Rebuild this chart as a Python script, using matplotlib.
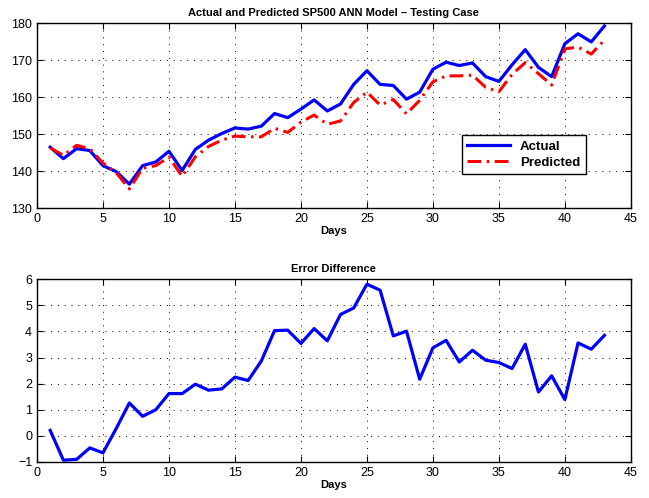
import matplotlib
matplotlib.use("Agg")
import matplotlib.pyplot as plt

plt.rcParams['font.family'] = ['Liberation Sans', 'DejaVu Sans']

days = list(range(1, 44))

actual = [146.5, 143.4, 146.1, 145.6, 141.5, 139.9, 136.5, 141.5, 142.5, 145.4,
          140.2, 145.9, 148.4, 150.2, 151.7, 151.4, 152.2, 155.6, 154.5, 156.8,
          159.3, 156.3, 158.2, 163.5, 167.2, 163.5, 163.2, 159.5, 161.4, 167.6,
          169.5, 168.6, 169.3, 165.6, 164.3, 168.8, 172.9, 168.1, 165.6, 174.5,
          177.2, 175.0, 179.3]

predicted = [146.3, 144.3, 147.0, 146.1, 142.2, 139.6, 135.2, 140.8, 141.5, 143.8,
             138.6, 143.9, 146.7, 148.4, 149.5, 149.3, 149.3, 151.6, 150.5, 153.3,
             155.2, 152.7, 153.6, 158.6, 161.4, 157.9, 159.4, 155.5, 159.2, 164.2,
             165.8, 165.8, 166.0, 162.7, 161.5, 166.2, 169.4, 166.4, 163.3, 173.1,
             173.6, 171.7, 175.5]

error = [0.21, -0.93, -0.90, -0.46, -0.65, 0.28, 1.26, 0.75, 1.00, 1.62,
         1.62, 1.98, 1.75, 1.80, 2.25, 2.12, 2.87, 4.03, 4.05, 3.54,
         4.11, 3.64, 4.65, 4.90, 5.81, 5.58, 3.83, 4.01, 2.17, 3.37,
         3.66, 2.83, 3.28, 2.90, 2.81, 2.58, 3.51, 1.68, 2.30, 1.39,
         3.56, 3.32, 3.85]

x_ticks = [0, 5, 10, 15, 20, 25, 30, 35, 40, 45]
top_yticks = [130, 140, 150, 160, 170, 180]
bottom_yticks = [-1, 0, 1, 2, 3, 4, 5, 6]

fig = plt.figure(figsize=(6.49, 4.98), dpi=100)
ax1 = fig.add_axes([0.057, 0.582, 0.915, 0.371])
ax2 = fig.add_axes([0.057, 0.0723, 0.915, 0.367])


def style(ax):
    ax.grid(True, linestyle=(0, (1, 6)), color='black', linewidth=0.7)
    ax.tick_params(direction='in', top=True, right=True, labelsize=9,
                   length=4, width=0.8)
    for s in ax.spines.values():
        s.set_linewidth(1.0)
    ax.set_xticks(x_ticks)
    ax.set_xlim(0, 45)
    ax.set_xlabel('Days', fontsize=8, fontweight='bold', labelpad=1)


ax1.plot(days, actual, color='blue', linewidth=2.3, label='Actual')
ax1.plot(days, predicted, color='red', linewidth=2.2,
         linestyle=(0, (4.5, 1.8, 0.8, 1.8)), label='Predicted')
ax1.set_ylim(130, 180)
ax1.set_yticks(top_yticks)
style(ax1)
ax1.set_title('Actual and Predicted SP500 ANN Model \u2013 Testing Case',
              fontsize=8, fontweight='bold', pad=5)
leg = ax1.legend(loc='lower right', bbox_to_anchor=(0.935, 0.148),
                 prop={'weight': 'bold', 'size': 9.5}, fancybox=False,
                 edgecolor='black', framealpha=1, handlelength=3.2,
                 borderpad=0.4, labelspacing=0.3)
leg.get_frame().set_linewidth(1.0)

ax2.plot(days, error, color='blue', linewidth=2.3)
ax2.set_ylim(-1, 6)
ax2.set_yticks(bottom_yticks)
style(ax2)
ax2.set_title('Error Difference', fontsize=8, fontweight='bold', pad=5)

fig.savefig('out.png', dpi=100)
